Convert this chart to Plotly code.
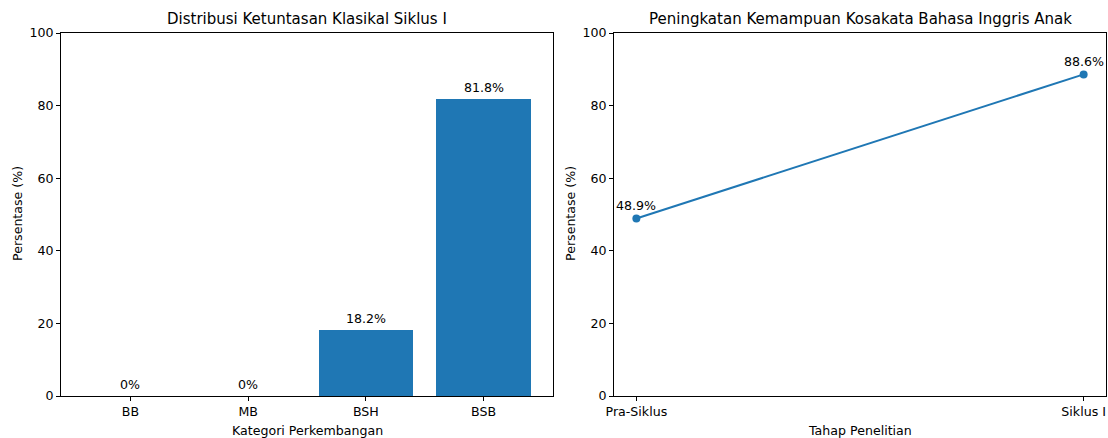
import plotly.graph_objects as go

categories = ["BB", "MB", "BSH", "BSB"]
bar_values = [0, 0, 18.2, 81.8]
bar_labels = ["0%", "0%", "18.2%", "81.8%"]

stages = ["Pra-Siklus", "Siklus I"]
line_values = [48.9, 88.6]
line_labels = ["48.9%", "88.6%"]

W, H = 1108, 438
BLUE = "#1f77b4"
FONT = "DejaVu Sans"
TXT = "#000000"
FS = 12.6

def fx(px):
    return px / W

def fy(py):
    return 1 - py / H

fig = go.Figure()

fig.add_trace(go.Bar(x=list(range(len(categories))), y=bar_values, width=0.8,
                     marker=dict(color=BLUE, line=dict(width=0)),
                     xaxis="x", yaxis="y", showlegend=False, hoverinfo="skip"))

fig.add_trace(go.Scatter(x=list(range(len(stages))), y=line_values, mode="lines+markers",
                         line=dict(color=BLUE, width=2), marker=dict(color=BLUE, size=8),
                         xaxis="x2", yaxis="y2", showlegend=False, hoverinfo="skip"))

annotations = []
for i, (v, t) in enumerate(zip(bar_values, bar_labels)):
    annotations.append(dict(x=i, y=v, xref="x", yref="y", text=t, showarrow=False,
                            yanchor="bottom", yshift=2, font=dict(family=FONT, size=FS, color=TXT)))
for i, (v, t) in enumerate(zip(line_values, line_labels)):
    annotations.append(dict(x=i, y=v, xref="x2", yref="y2", text=t, showarrow=False,
                            yanchor="bottom", yshift=3, font=dict(family=FONT, size=FS, color=TXT)))

annotations += [
    dict(x=fx(307), y=fy(19), xref="paper", yref="paper", text="Distribusi Ketuntasan Klasikal Siklus I",
         showarrow=False, xanchor="center", yanchor="middle", font=dict(family=FONT, size=15, color=TXT)),
    dict(x=fx(860), y=fy(19), xref="paper", yref="paper", text="Peningkatan Kemampuan Kosakata Bahasa Inggris Anak",
         showarrow=False, xanchor="center", yanchor="middle", font=dict(family=FONT, size=15, color=TXT)),
    dict(x=fx(307), y=fy(430), xref="paper", yref="paper", text="Kategori Perkembangan",
         showarrow=False, xanchor="center", yanchor="middle", font=dict(family=FONT, size=FS, color=TXT)),
    dict(x=fx(860), y=fy(430), xref="paper", yref="paper", text="Tahap Penelitian",
         showarrow=False, xanchor="center", yanchor="middle", font=dict(family=FONT, size=FS, color=TXT)),
    dict(x=fx(17), y=fy(214), xref="paper", yref="paper", text="Persentase (%)", textangle=-90,
         showarrow=False, xanchor="center", yanchor="middle", font=dict(family=FONT, size=FS, color=TXT)),
    dict(x=fx(570), y=fy(214), xref="paper", yref="paper", text="Persentase (%)", textangle=-90,
         showarrow=False, xanchor="center", yanchor="middle", font=dict(family=FONT, size=FS, color=TXT)),
]

axis_common = dict(showline=True, linecolor="black", linewidth=1, mirror=True, showgrid=False,
                   zeroline=False, ticks="outside", ticklen=4, tickwidth=1, tickcolor="black",
                   automargin=False, tickfont=dict(family=FONT, size=FS, color=TXT))

ydom = [fy(396), fy(33)]
fig.update_layout(
    width=W, height=H, margin=dict(l=0, r=0, t=0, b=0, pad=0),
    paper_bgcolor="white", plot_bgcolor="white", bargap=0,
    xaxis=dict(domain=[fx(61), fx(553)], range=[-0.59, 3.59], tickmode="array",
               tickvals=list(range(len(categories))), ticktext=categories, anchor="y", **axis_common),
    yaxis=dict(domain=ydom, range=[0, 100], tickvals=[0, 20, 40, 60, 80, 100], anchor="x", **axis_common),
    xaxis2=dict(domain=[fx(614), fx(1106)], range=[-0.05, 1.05], tickmode="array",
                tickvals=list(range(len(stages))), ticktext=stages, anchor="y2", **axis_common),
    yaxis2=dict(domain=ydom, range=[0, 100], tickvals=[0, 20, 40, 60, 80, 100], anchor="x2", **axis_common),
    annotations=annotations,
)

fig.write_html("out.html", config={"displayModeBar": False, "staticPlot": True},
               post_script="document.body.style.margin='0';document.body.style.padding='0';"
                           "document.body.style.overflow='hidden';")
